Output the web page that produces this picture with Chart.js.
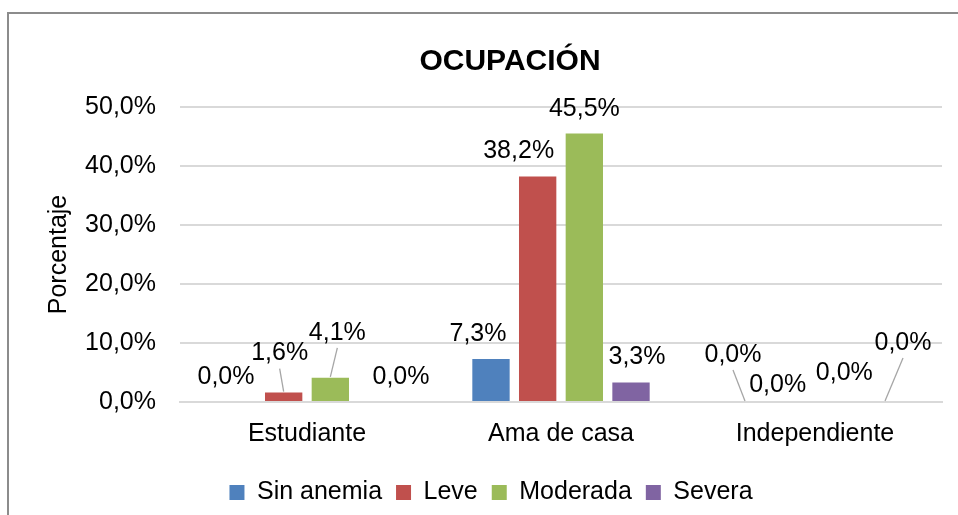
<!DOCTYPE html>
<html>
<head>
<meta charset="utf-8">
<script src="https://cdn.jsdelivr.net/npm/chart.js@4"></script>
<style>
	html,body{ margin:0; padding:0; background:#fff; }
	#wrap{ position:relative; width:958px; height:515px; }
	#frame{ position:absolute; left:7px; top:12px; right:-4px; bottom:-4px; border-left:2px solid #8c8c8c; border-top:2px solid #8c8c8c; pointer-events:none; }
	canvas{ position:absolute; left:0; top:0; }
</style>
</head>
<body>
<div id="wrap">
	<canvas id="chart" width="958" height="515"></canvas>
	<div id="frame"></div>
</div>
<script>
// --- datos ---
const categorias = ['Estudiante', 'Ama de casa', 'Independiente'];
const series = ['Sin anemia', 'Leve', 'Moderada', 'Severa'];
const sinAnemia = [0.0, 7.3, 0.0];
const leve = [1.6, 38.2, 0.0];
const moderada = [4.1, 45.5, 0.0];
const severa = [0.0, 3.3, 0.0];
const yTicks = [0, 10, 20, 30, 40, 50];

const colores = ['#4f81bd', '#c0504d', '#9bbb59', '#8064a2'];

// desplazamiento de etiquetas (px, relativo al tope de la barra) y líneas guía
const labelShift = [
	[[-11,-25], [-13,-25], [-12,-47]],
	[[-4,-39],  [-19,-26], [-14,-17]],
	[[7,-45],   [0,-24],   [6,-29]],
	[[24,-25],  [6,-25],   [18,-59]]
];
const leader = [
	[false, false, true],
	[true,  false, false],
	[true,  false, false],
	[false, false, true]
];

const FONT = 'Liberation Sans, Arial, sans-serif';
const fmt = v => v.toFixed(1).replace('.', ',') + '%';

const labelsPlugin = {
	id: 'etiquetas',
	afterDatasetsDraw(chart){
		const ctx = chart.ctx;
		ctx.save();
		ctx.font = '25px ' + FONT;
		ctx.textAlign = 'center'; ctx.textBaseline = 'middle';
		chart.data.datasets.forEach((ds, di)=>{
			const meta = chart.getDatasetMeta(di);
			meta.data.forEach((bar, i)=>{
				const [dx, dy] = labelShift[di][i];
				const lx = bar.x + dx, ly = bar.y + dy;
				if (leader[di][i]){
					ctx.strokeStyle = '#a6a6a6'; ctx.lineWidth = 1.3;
					ctx.beginPath();
					ctx.moveTo(lx, ly + 15);
					ctx.lineTo(bar.x, bar.y - 1);
					ctx.stroke();
				}
				ctx.fillStyle = '#000';
				ctx.fillText(fmt(ds.data[i]), lx, ly);
			});
		});
		// título
		ctx.font = 'bold 30px ' + FONT;
		ctx.fillText('OCUPACIÓN', 510, 62);
		ctx.restore();
	}
};

new Chart(document.getElementById('chart').getContext('2d'), {
	type: 'bar',
	data: {
		labels: categorias,
		datasets: [sinAnemia, leve, moderada, severa].map((d, i)=>({
			label: series[i], data: d, backgroundColor: colores[i],
			categoryPercentage: 0.735, barPercentage: 0.8
		}))
	},
	options: {
		responsive: false, animation: false,
		layout: { padding: { top: 107, right: 16, bottom: 0, left: 40 } },
		plugins: {
			title: { display: false },
			tooltip: { enabled: false },
			legend: {
				position: 'bottom',
				labels: { color: '#000', font: { family: FONT, size: 25 }, boxWidth: 15, boxHeight: 15, padding: 14 }
			}
		},
		scales: {
			x: {
				grid: { display: false, drawTicks: false },
				border: { color: '#d9d9d9', width: 2 },
				ticks: { color: '#000', font: { family: FONT, size: 25 }, padding: 17 }
			},
			y: {
				min: 0, max: 50,
				afterBuildTicks: s => { s.ticks = yTicks.map(v=>({ value: v })); },
				afterFit: s => { s.width = 140; },
				grid: { color: '#d9d9d9', lineWidth: 2, drawTicks: false },
				border: { display: false },
				ticks: { color: '#000', font: { family: FONT, size: 25 }, padding: 24, callback: v => fmt(v) },
				title: { display: true, text: 'Porcentaje', color: '#000', font: { family: FONT, size: 25 }, padding: 4 }
			}
		}
	},
	plugins: [labelsPlugin]
});
</script>
</body>
</html>
